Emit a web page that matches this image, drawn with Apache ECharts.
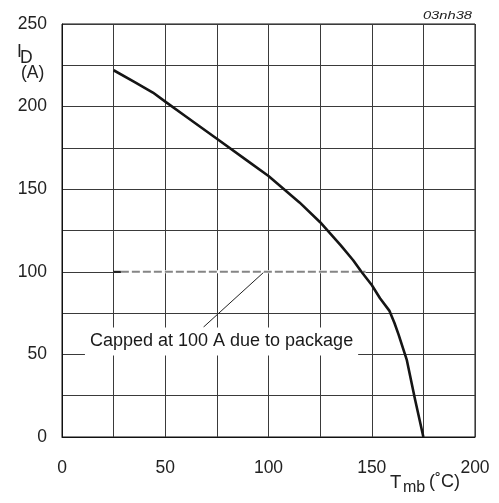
<!DOCTYPE html>
<html><head><meta charset="utf-8">
<script src="https://cdn.jsdelivr.net/npm/echarts@6/dist/echarts.min.js"></script>
<style>html,body{margin:0;padding:0;background:#fff}#c{width:499px;height:503px}</style>
</head><body><div id="c"></div>
<script>
// ---- data ----
const xTicks = [0, 50, 100, 150, 200];
const yTicks = [0, 50, 100, 150, 200, 250];
const curveT = [25, 35, 44, 50, 60, 75, 90, 100, 115, 125, 135, 141, 145, 150, 154, 158.5, 161, 163, 167, 171, 175];
const curveI = [222, 215, 208.5, 203, 194, 180.5, 167, 158, 142, 130, 116, 107, 100, 92, 84, 76.5, 69, 62, 46.5, 22.5, 0];
const capSolidT = [25, 28.5];
const capDashT = [28.5, 147];
const capI = 100;
const leaderT = [97.5, 68.5];
const leaderI = [99.5, 66.5];
const noteText = 'Capped at 100 A due to package';
const notePos = [77.5, 57.5];
const figId = '03nh38';

const FONT = 'Liberation Sans, Arial, Helvetica, sans-serif';
const chart = echarts.init(document.getElementById('c'), null, {renderer: 'canvas'});
const pair = (xs, ys) => xs.map((x, i) => [x, Array.isArray(ys) ? ys[i] : ys]);

chart.setOption({
  animation: false,
  backgroundColor: '#fff',
  grid: {left: 62, right: 24, top: 24, bottom: 66, show: true, borderColor: '#111', borderWidth: 1},
  xAxis: {
    type: 'value', min: 0, max: 200, interval: 25,
    axisLine: {show: true, lineStyle: {color: '#111', width: 1}},
    axisTick: {show: false},
    splitLine: {show: true, lineStyle: {color: '#3a3a3a', width: 1}},
    axisLabel: {color: '#222', fontSize: 17.5, fontFamily: FONT, margin: 22,
      formatter: v => xTicks.includes(v) ? String(v) : ''}
  },
  yAxis: {
    type: 'value', min: 0, max: 250, interval: 25,
    axisLine: {show: true, lineStyle: {color: '#111', width: 1}},
    axisTick: {show: false},
    splitLine: {show: true, lineStyle: {color: '#3a3a3a', width: 1}},
    axisLabel: {color: '#222', fontSize: 17.5, fontFamily: FONT, margin: 15,
      formatter: v => yTicks.includes(v) ? String(v) : ''}
  },
  series: [
    {type: 'line', data: pair(capDashT, capI), symbol: 'none', silent: true, z: 2,
      lineStyle: {color: '#fff', width: 3}},
    {type: 'line', data: pair(capDashT, capI), symbol: 'none', silent: true, z: 3,
      lineStyle: {color: '#858585', width: 2, type: [8, 3]}},
    {type: 'line', data: pair(capSolidT, capI), symbol: 'none', silent: true, z: 3,
      lineStyle: {color: '#222', width: 2}},
    {type: 'line', data: pair(leaderT, leaderI), symbol: 'none', silent: true, z: 3,
      lineStyle: {color: '#222', width: 1}},
    {type: 'line', data: pair(curveT, curveI), symbol: 'none', smooth: false, silent: true, z: 4,
      lineStyle: {color: '#151515', width: 2.6, join: 'round'}},
    {type: 'scatter', data: [notePos], symbolSize: 1, itemStyle: {color: '#fff', opacity: 1}, silent: true, z: 5,
      label: {show: true, position: [0, 0], align: 'center', verticalAlign: 'middle', formatter: noteText,
        color: '#1a1a1a', opacity: 1, textBorderWidth: 0, fontSize: 18,
        fontFamily: FONT, backgroundColor: '#fff', padding: [5, 5]}}
  ],
  graphic: [
    {type: 'text', x: 17, y: 43, style: {text: 'I', font: '17.5px ' + FONT, fill: '#222', verticalAlign: 'top'}},
    {type: 'text', x: 20, y: 49, style: {text: 'D', font: '17.5px ' + FONT, fill: '#222', verticalAlign: 'top'}},
    {type: 'text', x: 21, y: 64, style: {text: '(A)', font: '17.5px ' + FONT, fill: '#222', verticalAlign: 'top'}},
    {type: 'text', x: 390, y: 473, style: {text: 'T', font: '18.5px ' + FONT, fill: '#222', verticalAlign: 'top'}},
    {type: 'text', x: 403, y: 480, style: {text: 'mb', font: '16px ' + FONT, fill: '#222', verticalAlign: 'top'}},
    {type: 'text', x: 429, y: 473, style: {text: '(˚C)', font: '18px ' + FONT, fill: '#222', verticalAlign: 'top'}},
    {type: 'text', x: 472, y: 10, scaleX: 1.28, style: {text: figId, font: 'italic 11.5px ' + FONT, fill: '#222', align: 'right', verticalAlign: 'top'}}
  ]
});
</script></body></html>
